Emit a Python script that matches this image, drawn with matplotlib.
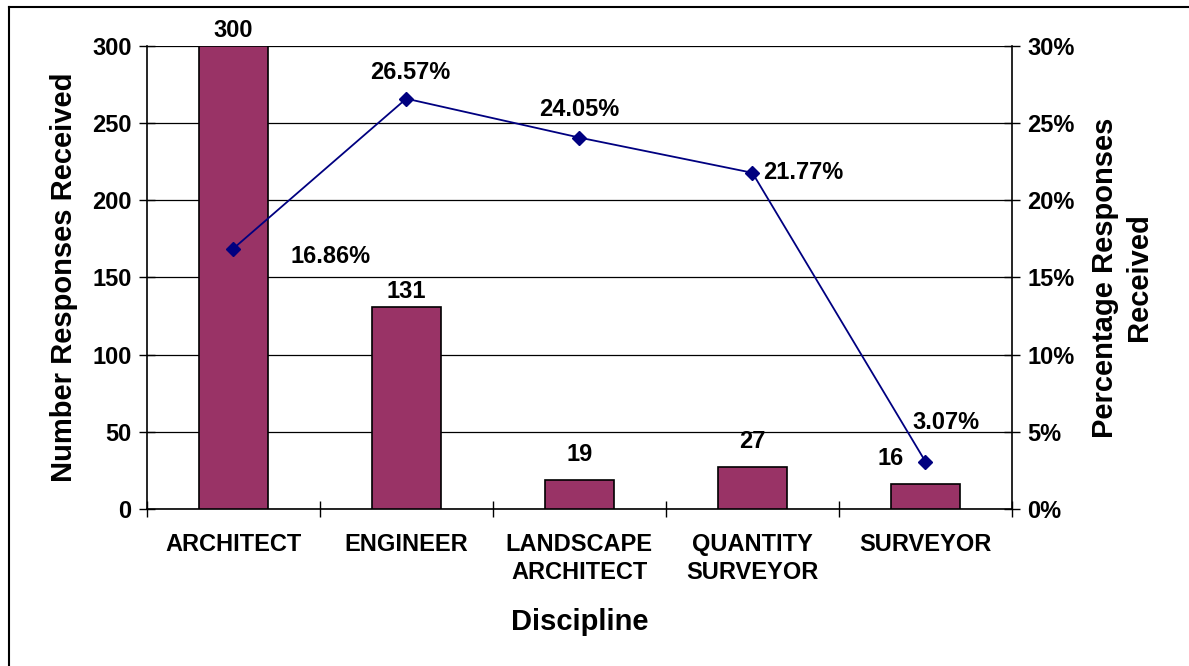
import matplotlib.pyplot as plt
from matplotlib.lines import Line2D
from matplotlib.ticker import FuncFormatter

# chart data
disciplines = ["ARCHITECT", "ENGINEER", "LANDSCAPE\nARCHITECT", "QUANTITY\nSURVEYOR", "SURVEYOR"]
responses = [300, 131, 19, 27, 16]
percentages = [16.86, 26.57, 24.05, 21.77, 3.07]
left_ticks = [0, 50, 100, 150, 200, 250, 300]
right_ticks = [0, 5, 10, 15, 20, 25, 30]

# label offsets (points)
bar_offsets = [(0, 3), (0, 3), (0, 10), (0, 10), (-25, 10)]
pct_offsets = [(41, -6), (3, 19), (0, 20), (8, 0), (15, 28)]
pct_ha = ["left", "center", "center", "left", "center"]

plt.rcParams['font.family'] = ['Liberation Sans', 'DejaVu Sans']
plt.rcParams['font.weight'] = 'bold'

fig = plt.figure(figsize=(11.89, 6.66), dpi=100)
ax = fig.add_axes([0.1234, 0.2357, 0.7277, 0.6957])
x = list(range(len(disciplines)))

ax.bar(x, responses, width=0.40, color="#993366", edgecolor="black", linewidth=1.2, zorder=3)
ax.set_xlim(-0.5, len(disciplines) - 0.5)
ax.set_ylim(0, 300)
ax.set_yticks(left_ticks)
ax.yaxis.grid(True, color="black", linewidth=0.9, zorder=0)
ax.set_axisbelow(True)

# category ticks at boundaries
ax.set_xticks([i - 0.5 for i in range(len(disciplines) + 1)])
ax.set_xticklabels([])
ax.set_xticks(x, minor=True)
ax.set_xticklabels(disciplines, minor=True, fontsize=17, fontweight="bold", linespacing=1.3)
ax.tick_params(axis="x", which="major", direction="inout", length=12, width=1)
ax.tick_params(axis="x", which="minor", length=0, pad=17)
ax.tick_params(axis="y", direction="inout", length=12, width=1, labelsize=17, pad=5)
for lbl in ax.get_yticklabels():
    lbl.set_fontweight("bold")

for s in ["top", "right"]:
    ax.spines[s].set_visible(False)
ax.spines["left"].set_linewidth(1.2)
ax.spines["bottom"].set_linewidth(1.2)

for xi, v, off in zip(x, responses, bar_offsets):
    ax.annotate(str(v), (xi, v), xytext=off, textcoords="offset points",
                ha="center", va="bottom", fontsize=17, fontweight="bold")

ax.set_xlabel("Discipline", fontsize=21, fontweight="bold", labelpad=17)
ax.set_ylabel("Number Responses Received", fontsize=21, fontweight="bold", labelpad=10)

ax2 = ax.twinx()
ax2.set_ylim(0, 30)
ax2.set_yticks(right_ticks)
ax2.yaxis.set_major_formatter(FuncFormatter(lambda v, p: f"{v:.0f}%"))
ax2.tick_params(axis="y", direction="inout", length=12, width=1, labelsize=17, pad=5)
for lbl in ax2.get_yticklabels():
    lbl.set_fontweight("bold")
for s in ["top", "left", "bottom"]:
    ax2.spines[s].set_visible(False)
ax2.spines["right"].set_linewidth(1.2)

ax2.plot(x, percentages, color="#000080", linewidth=1.3, marker="D", markersize=7,
         markerfacecolor="#000080", markeredgecolor="#000080", zorder=4)
for xi, v, off, ha in zip(x, percentages, pct_offsets, pct_ha):
    ax2.annotate(f"{v:.2f}%", (xi, v), xytext=off, textcoords="offset points",
                 ha=ha, va="center", fontsize=17, fontweight="bold")

ax2.set_ylabel("Percentage Responses\nReceived", fontsize=21, fontweight="bold",
               labelpad=12, linespacing=1.25)

# outer frame (top and left edge)
fig.add_artist(Line2D([9 / 1189, 1.0], [1 - 7 / 666, 1 - 7 / 666], color="black", linewidth=1.5))
fig.add_artist(Line2D([9 / 1189, 9 / 1189], [0, 1 - 7 / 666], color="black", linewidth=1.5))

fig.savefig("out.png", dpi=100)
